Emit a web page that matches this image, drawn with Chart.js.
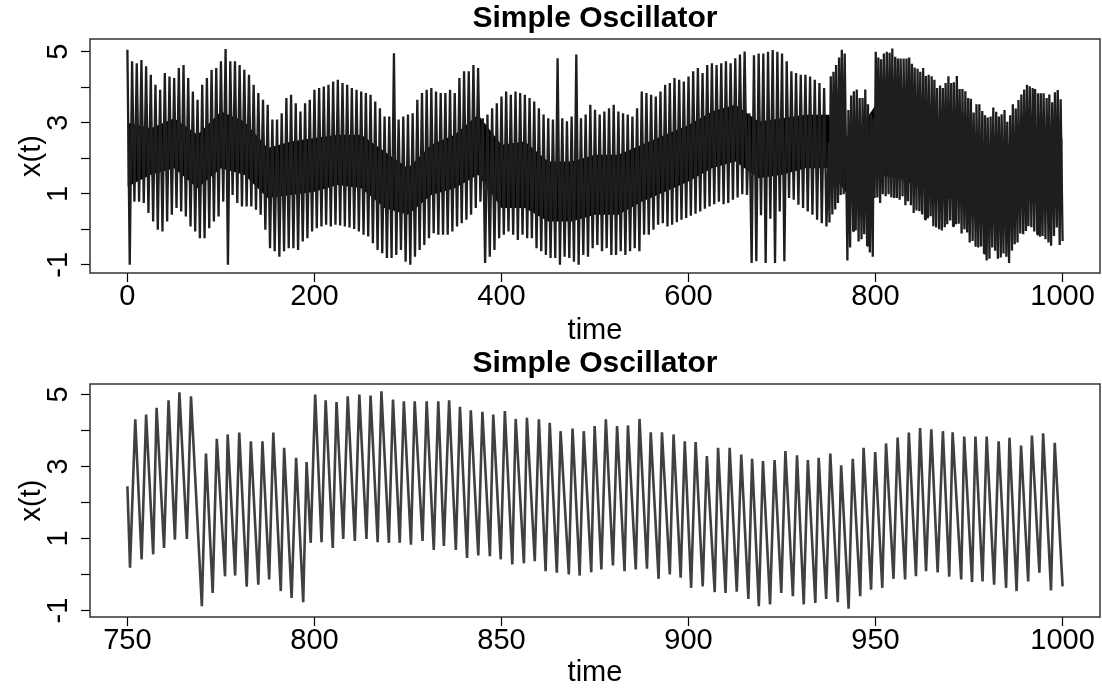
<!DOCTYPE html>
<html>
<head>
<meta charset="utf-8">
<title>Simple Oscillator</title>
<script src="https://cdn.jsdelivr.net/npm/chart.js@4/dist/chart.umd.min.js"></script>
<style>
  body { margin: 0; background: #fff; }
  .panel { position: absolute; left: 0; width: 1102px; }
  #topWrap { top: 0; height: 345px; }
  #botWrap { top: 345px; height: 346px; }
</style>
</head>
<body>
<div class="panel" id="topWrap"><canvas id="topChart"></canvas></div>
<div class="panel" id="botWrap"><canvas id="botChart"></canvas></div>
<script>
// top panel: envelope read every 5 time units (peak, then trough)
const topStep = 5;
const topHigh = [
  5.06, 4.73, 4.68, 4.77, 4.59, 4.35, 4.07, 3.93, 4.40, 4.30,
  4.26, 4.54, 4.63, 4.26, 3.88, 3.65, 4.07, 4.26, 4.49, 4.54,
  4.73, 5.08, 4.73, 4.73, 4.63, 4.49, 4.35, 4.07, 3.84, 3.65,
  3.51, 3.09, 3.09, 3.27, 3.70, 3.79, 3.55, 3.32, 3.55, 3.65,
  3.93, 3.98, 4.02, 4.07, 4.16, 4.21, 4.12, 4.07, 3.98, 3.93,
  3.88, 3.84, 3.79, 3.60, 3.41, 3.18, 3.18, 4.96, 3.09, 3.18,
  3.23, 3.27, 3.65, 3.84, 3.93, 3.98, 3.88, 3.84, 3.84, 3.93,
  3.84, 4.26, 4.45, 4.45, 4.63, 4.54, 3.13, 3.23, 3.41, 3.55,
  3.74, 3.88, 3.79, 3.88, 3.84, 3.79, 3.70, 3.60, 3.41, 3.23,
  3.13, 3.09, 4.82, 3.13, 3.04, 3.18, 4.92, 3.13, 3.23, 3.51,
  3.37, 3.23, 3.32, 3.41, 3.51, 3.32, 3.27, 3.23, 3.18, 3.41,
  3.88, 3.84, 3.79, 3.74, 3.88, 4.07, 4.12, 4.26, 4.21, 4.16,
  4.30, 4.45, 4.54, 4.40, 4.63, 4.68, 4.63, 4.68, 4.73, 4.68,
  4.82, 4.92, 5.01, 3.27, 4.90, 4.95, 4.95, 5.00, 5.05, 5.00,
  4.95, 4.73, 4.45, 4.40, 4.35, 4.35, 4.30, 4.21, 4.12, 3.98
];
const topLow = [
  -1.00, 0.78, 0.78, 0.74, 0.46, 0.22, -0.01, -0.06, 0.22, 0.41,
  0.60, 0.50, 0.36, 0.08, -0.06, -0.25, -0.25, 0.03, 0.22, 0.36,
  0.78, -1.00, 0.97, 0.74, 0.64, 0.64, 0.64, 0.55, 0.41, -0.01,
  -0.53, -0.62, -0.77, -0.62, -0.53, -0.53, -0.58, -0.34, -0.25, -0.06,
  0.03, 0.08, 0.13, 0.08, 0.13, 0.11, 0.08, 0.05, 0.01, -0.06,
  -0.15, -0.20, -0.39, -0.58, -0.67, -0.81, -0.81, -0.72, -0.58, -0.91,
  -1.00, -0.77, -0.58, -0.44, -0.25, -0.11, -0.15, -0.15, -0.15, -0.06,
  0.08, 0.17, 0.27, 0.41, 0.60, 0.78, -0.95, -0.77, -0.58, -0.25,
  -0.15, -0.06, -0.15, -0.30, -0.15, -0.25, -0.25, -0.53, -0.62, -0.72,
  -0.81, -0.81, -1.00, -0.77, -0.81, -0.91, -1.00, -0.72, -0.77, -0.53,
  -0.44, -0.62, -0.53, -0.72, -0.72, -0.62, -0.72, -0.62, -0.53, -0.62,
  -0.15, -0.15, -0.01, 0.13, 0.17, 0.08, 0.13, 0.20, 0.27, 0.32,
  0.38, 0.44, 0.50, 0.58, 0.64, 0.71, 0.78, 0.71, 0.74, 0.83,
  0.90, 0.99, 0.97, -0.95, -0.90, 0.40, -0.95, 0.30, -0.95, 0.50,
  -0.90, 0.88, 0.83, 0.69, 0.60, 0.50, 0.41, 0.27, 0.17, 0.08
];
const topTimes = topHigh.map((v, i) => i * topStep);

// dark core of the top band, read every 25 time units
const coreStep = 25;
const coreHigh = [
  3.00, 2.85, 3.13, 2.66, 3.32, 3.04, 2.29, 2.47, 2.57, 2.66,
  2.66, 2.19, 1.72, 2.38, 2.66, 3.23, 2.38, 2.47, 1.91, 1.91,
  2.10, 2.10, 2.38, 2.66, 2.94, 3.32, 3.51, 3.04, 3.13, 3.23,
  3.23, 2.47, 3.51, 3.32, 2.94, 2.57, 2.38, 2.29, 2.47, 2.66, 2.57
];
const coreLow = [
  1.20, 1.54, 1.72, 1.16, 1.72, 1.54, 0.88, 0.97, 1.06, 1.25,
  1.16, 0.60, 0.41, 0.97, 1.16, 1.54, 0.60, 0.60, 0.22, 0.22,
  0.41, 0.41, 0.78, 1.06, 1.35, 1.72, 1.91, 1.44, 1.54, 1.72,
  1.72, 0.78, 1.54, 1.44, 1.16, 0.88, 0.78, 0.69, 0.97, 1.06, 1.06
];
const coreTimes = coreHigh.map((v, i) => i * coreStep);

// bottom panel: turning points (750 - 1000)
const botTimes = [
  750, 750.7, 752.1, 753.8, 755.0, 756.9, 757.8, 759.8, 761.0, 762.7,
  763.9, 765.9, 767.0, 769.9, 771.0, 772.8, 773.9, 776.1, 776.8, 778.8,
  779.9, 781.9, 783.0, 785.0, 786.1, 787.9, 789.0, 791.0, 791.9, 793.9,
  795.1, 797.0, 797.9, 799.0, 800.2, 801.9, 803.0, 804.9, 805.9, 807.7,
  808.9, 810.8, 812.0, 813.9, 815.0, 816.9, 817.9, 819.9, 821.0, 822.8,
  823.9, 825.8, 826.8, 828.9, 830.0, 831.9, 833.1, 834.6, 836.0, 837.8,
  838.9, 840.8, 841.8, 843.8, 844.9, 846.9, 847.8, 849.8, 850.9, 852.9,
  853.8, 856.0, 856.8, 858.9, 860.0, 861.8, 862.9, 864.8, 865.8, 868.0,
  869.0, 870.9, 872.0, 874.0, 874.9, 876.7, 877.9, 879.8, 880.9, 882.9,
  883.8, 885.9, 886.9, 888.9, 889.9, 892.0, 892.9, 895.0, 896.0, 897.9,
  899.0, 900.7, 901.9, 903.8, 904.9, 907.0, 907.9, 909.9, 911.0, 912.9,
  914.1, 916.0, 917.0, 918.8, 919.9, 921.8, 923.0, 924.8, 925.9, 927.9,
  929.0, 930.8, 931.9, 933.9, 934.8, 936.8, 937.9, 939.9, 940.8, 942.8,
  943.9, 945.9, 946.8, 948.8, 949.9, 951.8, 952.8, 954.8, 955.9, 957.9,
  958.9, 960.8, 961.9, 963.5, 964.9, 966.6, 968.0, 969.7, 970.6, 972.9,
  973.7, 975.8, 976.7, 978.6, 979.7, 981.7, 982.9, 984.9, 985.8, 987.7,
  988.9, 990.8, 991.8, 993.8, 994.8, 996.9, 997.9, 1000
];
const botValues = [
  2.45, 0.19, 4.31, 0.42, 4.44, 0.56, 4.63, 0.74, 4.84, 0.97,
  5.06, 0.99, 4.95, -0.88, 3.36, -0.51, 3.77, -0.05, 3.89, -0.03,
  3.94, -0.34, 3.70, -0.28, 3.70, -0.14, 3.94, -0.46, 3.52, -0.65,
  3.24, -0.77, 3.12, 0.88, 5.00, 0.90, 4.84, 0.74, 4.79, 0.99,
  4.95, 0.93, 5.00, 0.99, 4.97, 0.90, 5.09, 0.88, 4.86, 0.88,
  4.81, 0.83, 4.81, 0.93, 4.81, 0.68, 4.81, 0.79, 4.84, 0.68,
  4.66, 0.46, 4.56, 0.53, 4.52, 0.51, 4.44, 0.42, 4.54, 0.28,
  4.32, 0.31, 4.35, 0.37, 4.31, 0.09, 4.21, 0.05, 3.98, 0.00,
  4.05, -0.03, 3.98, 0.06, 4.12, 0.14, 4.31, 0.25, 4.12, 0.09,
  4.14, 0.14, 4.32, 0.16, 3.95, -0.12, 3.95, 0.00, 3.89, -0.09,
  3.70, -0.37, 3.68, -0.33, 3.29, -0.49, 3.52, -0.51, 3.52, -0.48,
  3.33, -0.68, 3.21, -0.88, 3.15, -0.83, 3.18, -0.51, 3.43, -0.60,
  3.31, -0.83, 3.18, -0.79, 3.24, -0.68, 3.36, -0.77, 3.03, -0.95,
  3.21, -0.60, 3.52, -0.42, 3.40, -0.37, 3.64, -0.12, 3.80, -0.14,
  3.94, -0.05, 4.07, 0.09, 4.03, 0.06, 3.98, -0.06, 3.95, -0.14,
  3.83, -0.21, 3.83, -0.19, 3.83, -0.28, 3.70, -0.37, 3.80, -0.46,
  3.58, -0.19, 3.86, 0.05, 3.92, -0.44, 3.66, -0.33
];

const yTicks = [-1, 0, 1, 2, 3, 4, 5];
const yLabelled = [-1, 1, 3, 5];
const topXTicks = [0, 200, 400, 600, 800, 1000];
const botXTicks = [750, 800, 850, 900, 950, 1000];

const FONT = "'Liberation Sans', Arial, Helvetica, sans-serif";
Chart.defaults.font.family = FONT;
Chart.defaults.color = '#000';

// R style box round the plot region
const boxPlugin = {
  id: 'plotBox',
  afterDatasetsDraw(chart) {
    const a = chart.chartArea;
    const ctx = chart.ctx;
    ctx.save();
    ctx.strokeStyle = '#333';
    ctx.lineWidth = 1.5;
    ctx.strokeRect(a.left, a.top, a.right - a.left, a.bottom - a.top);
    ctx.restore();
  }
};

function makeOptions(xMin, xMax, xTicks, yMin, yMax, axisHeight, timePad) {
  return {
    responsive: true,
    maintainAspectRatio: false,
    animation: false,
    layout: { padding: { left: 0, right: 2, top: 0, bottom: 0 } },
    plugins: {
      legend: { display: false },
      tooltip: { enabled: false },
      title: {
        display: true,
        text: 'Simple Oscillator',
        fullSize: false,
        font: { size: 30, weight: 'bold', lineHeight: 1 },
        padding: { top: 4, bottom: 5 }
      }
    },
    scales: {
      x: {
        type: 'linear',
        min: xMin,
        max: xMax,
        afterBuildTicks: s => { s.ticks = xTicks.map(v => ({ value: v })); },
        afterFit: s => { s.height = axisHeight; },
        grid: { drawOnChartArea: false, tickLength: 9, tickColor: '#000', tickWidth: 1.2 },
        border: { display: false },
        ticks: {
          font: { size: 29, lineHeight: 1 },
          padding: 0,
          maxRotation: 0,
          autoSkip: false,
          callback: v => String(v)
        },
        title: { display: true, text: 'time', font: { size: 29, lineHeight: 1 }, padding: { top: 0, bottom: timePad } }
      },
      y: {
        min: yMin,
        max: yMax,
        afterBuildTicks: s => { s.ticks = yTicks.map(v => ({ value: v })); },
        afterFit: s => { s.width = 90; },
        grid: { drawOnChartArea: false, tickLength: 9, tickColor: '#000', tickWidth: 1.2 },
        border: { display: false },
        ticks: {
          font: { size: 29, lineHeight: 1 },
          minRotation: 90,
          maxRotation: 90,
          crossAlign: 'center',
          padding: 9,
          autoSkip: false,
          callback: v => yLabelled.includes(v) ? String(v) : ''
        },
        title: { display: true, text: 'x(t)', font: { size: 29, lineHeight: 1 }, padding: { top: 17, bottom: 0 } }
      }
    }
  };
}

document.addEventListener('DOMContentLoaded', function() {
  // top trace: read envelope as peak/trough pairs, then the detailed 750-1000 part
  const topPoints = [];
  topTimes.forEach((t, i) => {
    topPoints.push({ x: t, y: topHigh[i] });
    topPoints.push({ x: t + topStep / 2, y: topLow[i] });
  });
  botTimes.forEach((t, i) => topPoints.push({ x: t, y: botValues[i] }));

  const botPoints = botTimes.map((t, i) => ({ x: t, y: botValues[i] }));

  new Chart(document.getElementById('topChart'), {
    type: 'line',
    data: {
      datasets: [
        {
          data: topPoints,
          borderColor: '#1e1e1e',
          borderWidth: 2.3,
          pointRadius: 0,
          borderJoinStyle: 'bevel',
          fill: false
        },
        {
          data: coreTimes.map((t, i) => ({ x: t, y: coreHigh[i] })),
          borderWidth: 0,
          pointRadius: 0,
          backgroundColor: '#000',
          fill: '+1'
        },
        {
          data: coreTimes.map((t, i) => ({ x: t, y: coreLow[i] })),
          borderWidth: 0,
          pointRadius: 0,
          fill: false
        }
      ]
    },
    options: makeOptions(-40, 1040, topXTicks, -1.23, 5.36, 72, 0),
    plugins: [boxPlugin]
  });

  new Chart(document.getElementById('botChart'), {
    type: 'line',
    data: {
      datasets: [{
        data: botPoints,
        borderColor: '#404040',
        borderWidth: 2.6,
        pointRadius: 0,
        borderJoinStyle: 'bevel',
        fill: false
      }]
    },
    options: makeOptions(740, 1010, botXTicks, -1.18, 5.29, 74, 3.5),
    plugins: [boxPlugin]
  });
});
</script>
</body>
</html>
